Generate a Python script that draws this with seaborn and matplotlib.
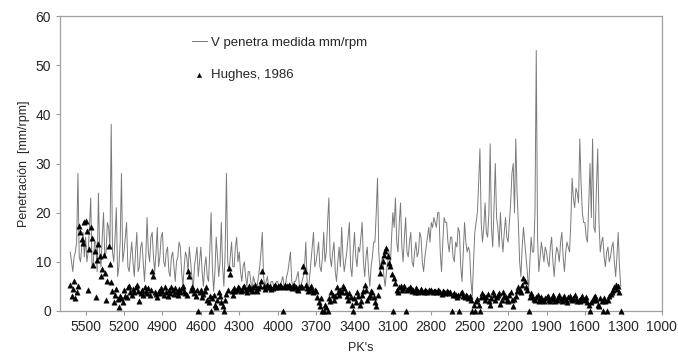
import numpy as np
import pandas as pd
import matplotlib
matplotlib.use('Agg')
import matplotlib.pyplot as plt
import seaborn as sns

# PK cada 10 m, de 5620 a 1320
pk = list(range(5620, 1319, -10))

# V penetra medida (mm/rpm)
v_medida = [
    12, 10, 8, 11, 12, 14, 28, 11, 10, 13, 16, 11,
    15, 10, 12, 17, 23, 9, 10, 14, 14, 8, 24, 12, 9, 15, 20, 11, 12, 18, 17, 13, 38, 12, 10, 15, 21, 7, 9, 14, 28, 10,
    12, 15, 18, 9, 8, 11, 14, 10, 7, 12, 16, 8, 9, 13, 14, 10, 6, 11, 19, 12, 10, 15, 16, 11, 8, 12, 17, 9, 11, 15,
    16, 10, 9, 12, 13, 8, 7, 11, 12, 9, 6, 10, 11, 14, 13, 8, 5, 9, 12, 11, 8, 13, 10, 7, 4, 9, 11, 13, 7, 10,
    13, 8, 5, 9, 11, 7, 6, 12, 20, 9, 4, 8, 15, 11, 7, 10, 18, 9, 5, 12, 28, 10, 8, 11, 14, 9, 9, 13, 15, 10,
    12, 8, 6, 9, 10, 7, 5, 8, 8, 6, 4, 7, 6, 5, 5, 7, 9, 12, 16, 7, 5, 6, 7, 5, 5, 6, 6, 5, 5, 6,
    6, 5, 5, 6, 7, 5, 5, 7, 8, 10, 12, 6, 5, 6, 6, 7, 8, 5, 5, 6, 7, 9, 14, 6, 4, 7, 10, 13, 16, 9,
    10, 12, 14, 9, 8, 11, 16, 10, 12, 18, 23, 11, 9, 12, 14, 8, 6, 10, 13, 9, 17, 11, 8, 10, 12, 15, 18, 9, 7, 12,
    16, 11, 9, 13, 12, 15, 18, 10, 7, 11, 13, 8, 5, 9, 11, 14, 14, 20, 27, 12, 8, 10, 11, 7, 5, 8, 10, 12, 9, 15,
    20, 17, 23, 14, 12, 18, 22, 13, 10, 15, 19, 12, 11, 14, 16, 10, 9, 12, 14, 11, 12, 16, 15, 10, 8, 11, 13, 15, 17, 14,
    18, 17, 19, 18, 17, 20, 20, 12, 8, 14, 19, 18, 18, 14, 12, 15, 15, 11, 10, 14, 13, 17, 16, 9, 6, 12, 18, 14, 12, 13,
    12, 6, 3, 10, 16, 18, 20, 26, 33, 18, 14, 17, 22, 16, 15, 20, 34, 17, 13, 21, 30, 19, 17, 13, 20, 15, 12, 16, 19, 15,
    14, 18, 22, 28, 30, 20, 35, 24, 18, 10, 7, 13, 17, 14, 11, 8, 4, 10, 15, 12, 12, 20, 53, 15, 8, 11, 14, 12, 10, 13,
    12, 10, 9, 13, 15, 10, 7, 11, 13, 12, 10, 14, 16, 11, 8, 12, 14, 13, 12, 18, 27, 23, 21, 25, 24, 22, 35, 26, 20, 18,
    18, 15, 14, 22, 30, 19, 35, 17, 16, 25, 33, 18, 12, 14, 15, 11, 9, 12, 13, 10, 11, 13, 14, 10, 7, 11, 16, 9, 5,
]

# Hughes, 1986
hughes = [
    5.2, 3.1, 4.4, 6.0, 2.6, 3.8, 5.1, 17.2, 16.0, 14.6, 13.8, 18.1,
    18.4, 16.2, 4.3, 12.7, 17.1, 14.8, 9.3, 12.2, 2.8, 10.4, 13.6, 11.1, 7.2, 8.6, 11.3, 7.7, 2.2, 6.1,
    13.2, 9.6, 5.8, 4.1, 1.9, 3.3, 4.4, 2.4, 0.8, 3.1, 2.7, 1.8,
    4.2, 3.1, 2.9, 4.8, 5.1, 3.9, 3.2, 4.4, 3.8, 4.9, 5.2, 4.1, 2.1, 3.7, 4.3,
    3.3, 4.8, 4.0, 3.6, 4.7, 3.2, 4.2, 8.1, 7.2, 3.9, 3.4, 2.9, 4.1, 3.7, 4.6,
    4.1, 3.3, 4.9, 3.8, 3.1, 4.3, 3.7, 4.8, 4.2, 3.4, 4.6, 3.9, 3.2, 4.4, 3.8,
    4.7, 5.0, 4.1, 3.6, 3.3, 8.2, 7.1, 4.2, 4.8, 4.5, 3.7, 3.1, 4.3, 0.0, 3.9,
    4.2, 2.9, 3.4, 4.1, 4.8, 2.2, 1.8, 3.1, 0.0, 2.7, 3.3, 1.2, 0.9, 2.2, 3.8,
    3.1, 1.9, 1.1, 0.0, 2.3, 3.4, 4.2, 8.8, 7.6, 4.1, 3.3, 4.7, 4.0, 4.3, 4.9,
    4.6, 4.0, 4.3, 4.9, 5.1, 4.2, 3.9, 4.7, 5.0, 4.4, 4.1, 4.8, 5.2, 4.3, 4.0,
    4.6, 5.0, 6.1, 8.2, 5.1, 4.4, 4.8, 5.2, 4.9, 5.1, 4.5, 4.6, 5.0, 5.3, 4.9,
    5.1, 4.8, 5.2, 5.0, 0.0, 4.9, 5.3, 5.1, 4.8, 5.2, 5.0, 4.7, 5.1, 5.3, 4.9,
    4.4, 4.2, 4.8, 5.1, 4.9, 9.2, 8.1, 5.2, 4.7, 4.1, 4.6, 5.0, 4.2, 3.8, 4.3,
    4.1, 2.8, 1.9, 1.1, 2.6, 0.0, 0.0, 1.3, 0.8, 0.0, 2.7, 2.1, 3.9, 3.2, 2.2,
    3.1, 4.8, 3.9, 3.3, 4.2, 3.8, 5.1, 4.7, 3.9, 3.1, 2.2, 3.7, 2.9, 1.2, 0.0,
    2.7, 1.8, 3.9, 3.1, 1.2, 2.1, 3.3, 4.1, 5.2, 4.2, 2.3, 2.9, 3.2, 4.1, 3.8,
    2.9, 1.9, 1.1, 3.2, 5.1, 7.8, 9.1, 10.2, 11.3, 12.1, 12.8, 11.2, 9.8, 9.1, 7.6,
    0.0, 6.8, 5.7, 4.2, 3.9, 4.8, 5.1, 4.3, 4.7, 5.0, 0.0, 4.2, 4.4, 4.9, 4.6,
    4.1, 4.3, 3.9, 4.6, 4.2, 3.9, 4.1, 4.5, 4.0, 3.8, 4.2, 4.1, 3.9, 4.3, 4.0,
    4.2, 3.9, 4.1, 4.0, 3.8, 4.2, 4.0, 3.9, 3.4, 4.1, 3.9, 3.7, 4.0, 3.8, 3.6,
    3.9, 0.0, 3.2, 3.7, 3.3, 2.9, 3.2, 0.0, 3.6, 3.8, 3.1, 2.8, 3.3, 3.0, 2.7,
    3.1, 2.2, 0.0, 1.2, 0.0, 2.1, 2.4, 1.3, 0.0, 2.8, 3.6, 3.1, 2.2, 2.9, 3.4,
    2.1, 1.2, 2.7, 3.8, 3.2, 2.3, 2.9, 3.3, 3.7, 1.4, 2.2, 3.9, 3.1, 2.8, 2.2,
    2.1, 3.2, 3.8, 2.3, 1.1, 2.4, 3.1, 4.0, 4.8, 4.2, 3.9, 5.2, 6.8, 6.1, 4.9,
    4.3, 0.0, 2.8, 3.6, 3.1, 2.4, 2.2, 2.9, 3.2, 2.1, 2.4, 2.8, 2.3, 2.0, 2.7,
    2.9, 3.1, 2.3, 2.0, 2.7, 3.2, 2.4, 2.1, 2.3, 2.8, 3.3, 2.5, 2.1, 2.6, 3.0,
    2.2, 1.9, 2.8, 3.1, 2.4, 2.2, 2.7, 3.2, 2.5, 2.1, 2.3, 2.0, 2.6, 3.1, 2.2,
    2.4, 2.9, 1.8, 1.2, 0.0, 1.9, 2.3, 2.8, 3.1, 2.2, 1.3, 1.1, 2.7, 2.0, 0.0,
    2.6, 2.1, 0.0, 2.3, 3.1, 3.4, 3.8, 4.3, 4.9, 5.3, 4.4, 5.1, 3.9, 0.0,
]

xticks = list(range(5500, 999, -300))

print(len(pk), len(v_medida), len(hughes))
n = min(len(pk), len(v_medida), len(hughes))
df = pd.DataFrame({'pk': pk[:n], 'v': v_medida[:n], 'hughes': hughes[:n]})

sns.set_style('white')
plt.rcParams['font.family'] = ['Liberation Sans', 'DejaVu Sans']

fig, ax = plt.subplots(figsize=(6.78, 3.57), dpi=100)
fig.subplots_adjust(left=0.0885, right=0.976, top=0.955, bottom=0.129)

sns.lineplot(data=df, x='pk', y='v', ax=ax, color='#7a7a7a', lw=0.7,
             sort=False, label='V penetra medida mm/rpm')
sns.scatterplot(data=df, x='pk', y='hughes', ax=ax, marker='^', color='black',
                s=15, edgecolor='black', linewidth=0.3, label='Hughes, 1986',
                zorder=3, clip_on=False)

ax.set_xlim(5700, 1000)
ax.set_ylim(0, 60)
ax.set_xticks(xticks)
ax.set_xticklabels([str(t) for t in xticks])
ax.set_yticks(range(0, 61, 10))
ax.tick_params(axis='both', labelsize=10, length=3, color='#999999',
               direction='out', bottom=True, left=True)
for s in ax.spines.values():
    s.set_color('#a0a0a0')
    s.set_linewidth(0.9)

ax.set_ylabel('Penetración  [mm/rpm]', fontsize=9)
ax.set_xlabel("PK's", fontsize=9, labelpad=6)

ax.legend(loc='upper left', bbox_to_anchor=(0.2, 0.97), frameon=False,
          fontsize=9.5, handlelength=1.1, handletextpad=0.3, labelspacing=1.5,
          markerscale=0.8)

plt.savefig('out.png', dpi=100)
